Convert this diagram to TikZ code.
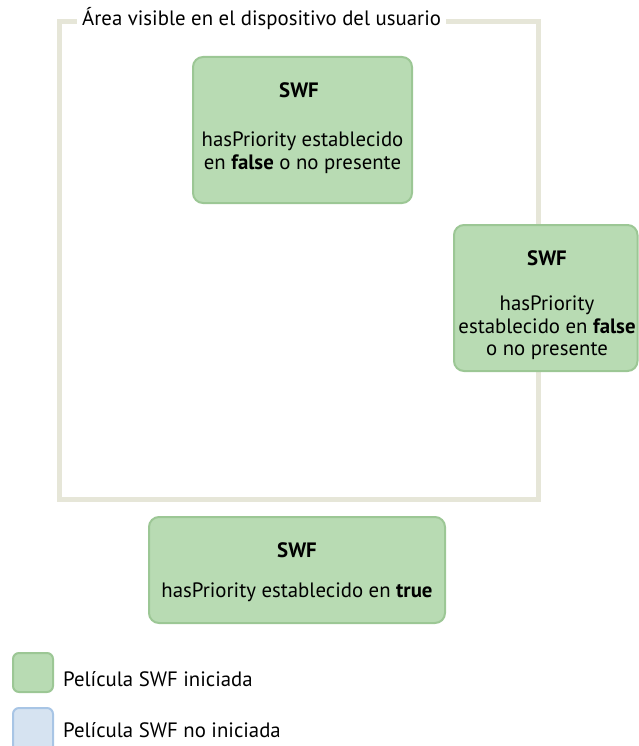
\documentclass[tikz,border=0pt]{standalone}
\usepackage{fontspec}
\setmainfont{PT Sans}
\definecolor{framec}{HTML}{E6E6D8}
\definecolor{gfill}{HTML}{B8DBB3}
\definecolor{gdraw}{HTML}{9CC795}
\definecolor{bfill}{HTML}{D6E3F1}
\definecolor{bdraw}{HTML}{A8C5E5}
\tikzset{
  frameline/.style={draw=framec, line width=5pt},
  swfbox/.style={fill=gfill, draw=gdraw, line width=2pt, rounded corners=10pt},
  legendbox/.style={line width=2pt, rounded corners=6pt},
  txt/.style={font=\fontsize{20.8}{24}\selectfont, inner sep=0pt, anchor=base},
  titletxt/.style={font=\fontsize{20.8}{24}\selectfont, fill=white, inner xsep=5pt, inner ysep=3pt, anchor=base west},
}
\begin{document}
\begin{tikzpicture}[x=1pt,y=-1pt]
\useasboundingbox (0,0) rectangle (639,746);
\draw[frameline] (59.5,21.5) rectangle (538.5,499.5);
\node[titletxt] (title) at (77,26) {Área visible en el dispositivo del usuario};

% box 1
\path[swfbox] (193,57) rectangle (412,203);
\node[txt] (b1h) at (299,98) {\textbf{SWF}};
\node[txt] (b1l1) at (302.5,147) {hasPriority establecido};
\node[txt] (b1l2) at (302.5,170) {en \textbf{false} o no presente};

% box 2
\path[swfbox] (454,225) rectangle (637.5,371);
\node[txt] (b2h) at (547,265) {\textbf{SWF}};
\node[txt] (b2l1) at (547,310) {hasPriority};
\node[txt] (b2l2) at (547,333) {establecido en \textbf{false}};
\node[txt] (b2l3) at (547,355) {o no presente};

% box 3
\path[swfbox] (149,517) rectangle (445,623);
\node[txt] (b3h) at (297,557) {\textbf{SWF}};
\node[txt] (b3l1) at (297,597) {hasPriority establecido en \textbf{true}};

% legend
\path[legendbox, fill=gfill, draw=gdraw] (13,653) rectangle (53,692);
\node[txt, anchor=base west] (lg1) at (63,686) {Película SWF iniciada};
\path[legendbox, fill=bfill, draw=bdraw] (13,708) rectangle (53,752);
\node[txt, anchor=base west] (lg2) at (63,737) {Película SWF no iniciada};
\end{tikzpicture}
\end{document}
